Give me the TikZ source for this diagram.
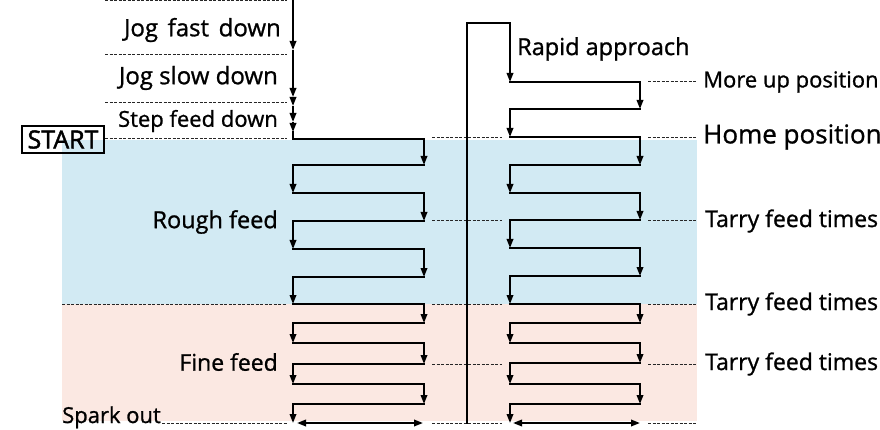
\documentclass[tikz,border=0pt]{standalone}
\usepackage{fontspec}
\setmainfont{Open Sans}[FakeBold=1]
\newfontfamily\heavyfont{Open Sans}[FakeBold=1.8]
\usetikzlibrary{arrows.meta}
\definecolor{bluebg}{RGB}{210,234,243}
\definecolor{pinkbg}{RGB}{251,232,226}
\begin{document}
\begin{tikzpicture}[x=1pt,y=-1pt,
  trace/.style={line width=1.9pt, black, line cap=rect},
  flow/.style={line width=1.9pt, black, -{Triangle[length=9pt,width=6.5pt]}},
  both/.style={line width=1.9pt, black, {Triangle[length=9pt,width=6.5pt]}-{Triangle[length=9pt,width=6.5pt]}},
  guide/.style={line width=1pt, black!85, dash pattern=on 3pt off 1.5pt},
  lbl/.style={font=\fontsize{23}{25}\selectfont, inner sep=0pt, text=black}]
\useasboundingbox (0,0) rectangle (880,430);
% backgrounds
\fill[bluebg] (62,140) rectangle (697,304);
\fill[pinkbg] (62,304) rectangle (697,421);
% guide lines
\foreach \y in {1,55,103,139} \draw[guide] (105,\y) -- (287,\y);
\draw[guide] (62,304) -- (287,304);
\draw[guide] (162,423) -- (287,423);
\foreach \y in {138,221,304,364,423} \draw[guide] (432,\y) -- (502,\y);
\foreach \y in {82,138,221,304,364,423} \draw[guide] (648,\y) -- (697,\y);
% left top descent
\coordinate (lt) at (293,0);
\coordinate (la) at (293,50);
\coordinate (lb) at (293,97);
\coordinate (lc) at (293,106);
\coordinate (ld) at (293,122);
\coordinate (le) at (293,132);
\coordinate (lh) at (293,139);
\draw[flow] (lt) -- (la);
\draw[flow] (la) -- (lb);
\draw[flow] (lb) -- (lc);
\draw[flow] (lc) -- (ld);
\draw[flow] (ld) -- (le);
\draw[trace] (le) -- (lh);
% left zigzag
\foreach \ya/\yb [count=\i] in {139/165,165/193,193/221,221/249,249/277,277/304,304/323,323/343,343/364,364/384,384/404,404/423} {
  \ifodd\i \def\xs{293}\def\xe{424}\else \def\xs{424}\def\xe{293}\fi
  \draw[trace] (\xs,\ya) -- (\xe,\ya);
  \draw[flow] (\xe,\ya) -- (\xe,\yb);
}
\coordinate (lbl1) at (297,423);
\coordinate (lbr) at (423,423);
\draw[both] (lbl1) -- (lbr);
% right side
\coordinate (rb) at (467,423);
\coordinate (rt) at (467,23);
\coordinate (rc) at (510,23);
\coordinate (rm) at (510,82);
\draw[line width=1.6pt, line cap=rect] (rb) -- (rt) -- (rc);
\draw[flow] (rc) -- (rm);
\foreach \ya/\yb [count=\i] in {82/109,109/137,137/165,165/193,193/220,220/248,248/276,276/304,304/323,323/343,343/363,363/384,384/404,404/423} {
  \ifodd\i \def\xs{510}\def\xe{640}\else \def\xs{640}\def\xe{510}\fi
  \draw[trace] (\xs,\ya) -- (\xe,\ya);
  \draw[flow] (\xe,\ya) -- (\xe,\yb);
}
\coordinate (rbl) at (513,423);
\coordinate (rbr) at (640,423);
\draw[both] (rbl) -- (rbr);
% labels
\node[lbl, anchor=east, font=\fontsize{24}{26}\selectfont] (jf) at (281,30) {Jog\hspace{0.4em}fast\hspace{0.4em}down};
\node[lbl, anchor=east, font=\fontsize{24}{26}\selectfont] (js) at (278,78) {Jog slow down};
\node[lbl, anchor=east, font=\fontsize{22}{24}\selectfont] (sf) at (278,121) {Step feed down};
\node[draw, line width=1.5pt, font=\fontsize{25}{27}\selectfont\heavyfont, inner sep=0pt, minimum width=82pt, minimum height=27pt] (start) at (63,139.5) {START};
\node[lbl, anchor=east, font=\fontsize{23.5}{25}\selectfont] (rough) at (278,222) {Rough feed};
\node[lbl, anchor=east, font=\fontsize{23}{25}\selectfont] (fine) at (278,362) {Fine feed};
\node[lbl, anchor=base west, font=\fontsize{22}{24}\selectfont] (spark) at (62,423) {Spark out};
\node[lbl, anchor=west, font=\fontsize{23.5}{25}\selectfont] (rapid) at (517,49) {Rapid approach};
\node[lbl, anchor=west, font=\fontsize{22}{24}\selectfont] (moreup) at (703,82) {More up position};
\node[lbl, anchor=west, font=\fontsize{26}{28}\selectfont] (home) at (703,137) {Home position};
\node[lbl, anchor=west] (t1) at (705,221) {Tarry feed times};
\node[lbl, anchor=west] (t2) at (705,304) {Tarry feed times};
\node[lbl, anchor=west] (t3) at (705,364) {Tarry feed times};
\end{tikzpicture}
\end{document}
